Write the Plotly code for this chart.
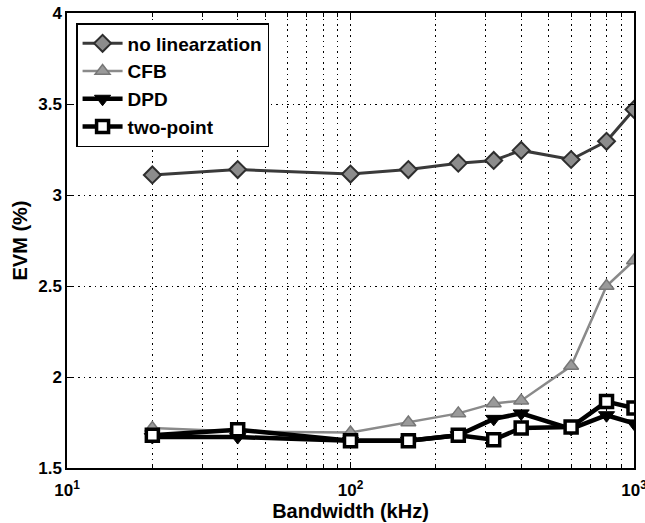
import plotly.graph_objects as go

# Signal bandwidth (kHz) and measured EVM (%) for each linearization scheme
bandwidth = [20, 40, 100, 160, 240, 320, 400, 600, 800, 1000]
evm_no_lin = [3.11, 3.14, 3.115, 3.14, 3.175, 3.19, 3.245, 3.195, 3.295, 3.47]
evm_cfb = [1.72, 1.70, 1.695, 1.75, 1.80, 1.855, 1.87, 2.06, 2.50, 2.64]
evm_dpd = [1.67, 1.67, 1.65, 1.65, 1.68, 1.77, 1.80, 1.715, 1.79, 1.745]
evm_two_point = [1.68, 1.71, 1.65, 1.65, 1.68, 1.655, 1.72, 1.725, 1.865, 1.83]

x_major = [10, 100, 1000]
x_major_text = ["10<sup>1</sup>", "10<sup>2</sup>", "10<sup>3</sup>"]
x_minor = [20, 30, 40, 50, 60, 70, 80, 90, 200, 300, 400, 500, 600, 700, 800, 900]
y_ticks = [1.5, 2, 2.5, 3, 3.5, 4]
y_tick_text = ["1.5", "2", "2.5", "3", "3.5", "4"]

FONT = "Liberation Sans, Arial, sans-serif"

fig = go.Figure()

fig.add_trace(go.Scatter(
    x=bandwidth, y=evm_no_lin, name="no linearzation", mode="lines+markers",
    line=dict(color="#3a3a3a", width=3),
    marker=dict(symbol="diamond", size=13, color="#8c8c8c",
                line=dict(color="#2e2e2e", width=2)),
))
fig.add_trace(go.Scatter(
    x=bandwidth, y=evm_cfb, name="CFB", mode="lines+markers",
    line=dict(color="#8a8a8a", width=2.5),
    marker=dict(symbol="triangle-up", size=13, color="#9a9a9a",
                line=dict(color="#777777", width=1.5)),
))
fig.add_trace(go.Scatter(
    x=bandwidth, y=evm_dpd, name="DPD", mode="lines+markers",
    line=dict(color="black", width=4.5),
    marker=dict(symbol="triangle-down", size=14, color="black",
                line=dict(color="black", width=1)),
))
fig.add_trace(go.Scatter(
    x=bandwidth, y=evm_two_point, name="two-point", mode="lines+markers",
    line=dict(color="black", width=4.5),
    marker=dict(symbol="square", size=12, color="white",
                line=dict(color="black", width=3.5)),
))

grid_dash = "1.5px,4px"
tick_font = dict(family=FONT, size=17, color="black", weight="bold")
title_font = dict(family=FONT, size=20, color="black", weight="bold")

fig.update_xaxes(
    type="log", range=[1, 3], automargin=False,
    tickvals=x_major, ticktext=x_major_text, ticklabeloverflow="allow",
    ticks="inside", ticklen=6, tickwidth=1, tickcolor="black",
    ticklabelstandoff=6,
    showline=True, linecolor="black", linewidth=1.5, mirror="ticks",
    showgrid=True, gridcolor="black", gridwidth=1, griddash=grid_dash,
    minor=dict(tickvals=x_minor, ticks="inside", ticklen=4, tickcolor="black",
               showgrid=True, gridcolor="black", gridwidth=1, griddash=grid_dash),
    zeroline=False,
    tickfont=tick_font,
    title=dict(text="Bandwidth (kHz)", standoff=3, font=title_font),
)
fig.update_yaxes(
    range=[1.5, 4], automargin=False,
    tickvals=y_ticks, ticktext=y_tick_text,
    ticks="inside", ticklen=6, tickwidth=1, tickcolor="black",
    showline=True, linecolor="black", linewidth=1.5, mirror="ticks",
    showgrid=True, gridcolor="black", gridwidth=1, griddash=grid_dash,
    zeroline=False,
    tickfont=tick_font,
    title=dict(text="EVM (%)", standoff=5, font=title_font),
)

fig.update_layout(
    width=645, height=523,
    margin=dict(l=67, r=11, t=13, b=55),
    paper_bgcolor="white", plot_bgcolor="white",
    showlegend=True,
    legend=dict(
        x=0.016, y=0.978, xanchor="left", yanchor="top",
        bgcolor="white", bordercolor="black", borderwidth=1.5,
        font=dict(family=FONT, size=19, color="black", weight="bold"),
        tracegroupgap=0, itemwidth=40,
    ),
)

fig.write_html("out.html")
